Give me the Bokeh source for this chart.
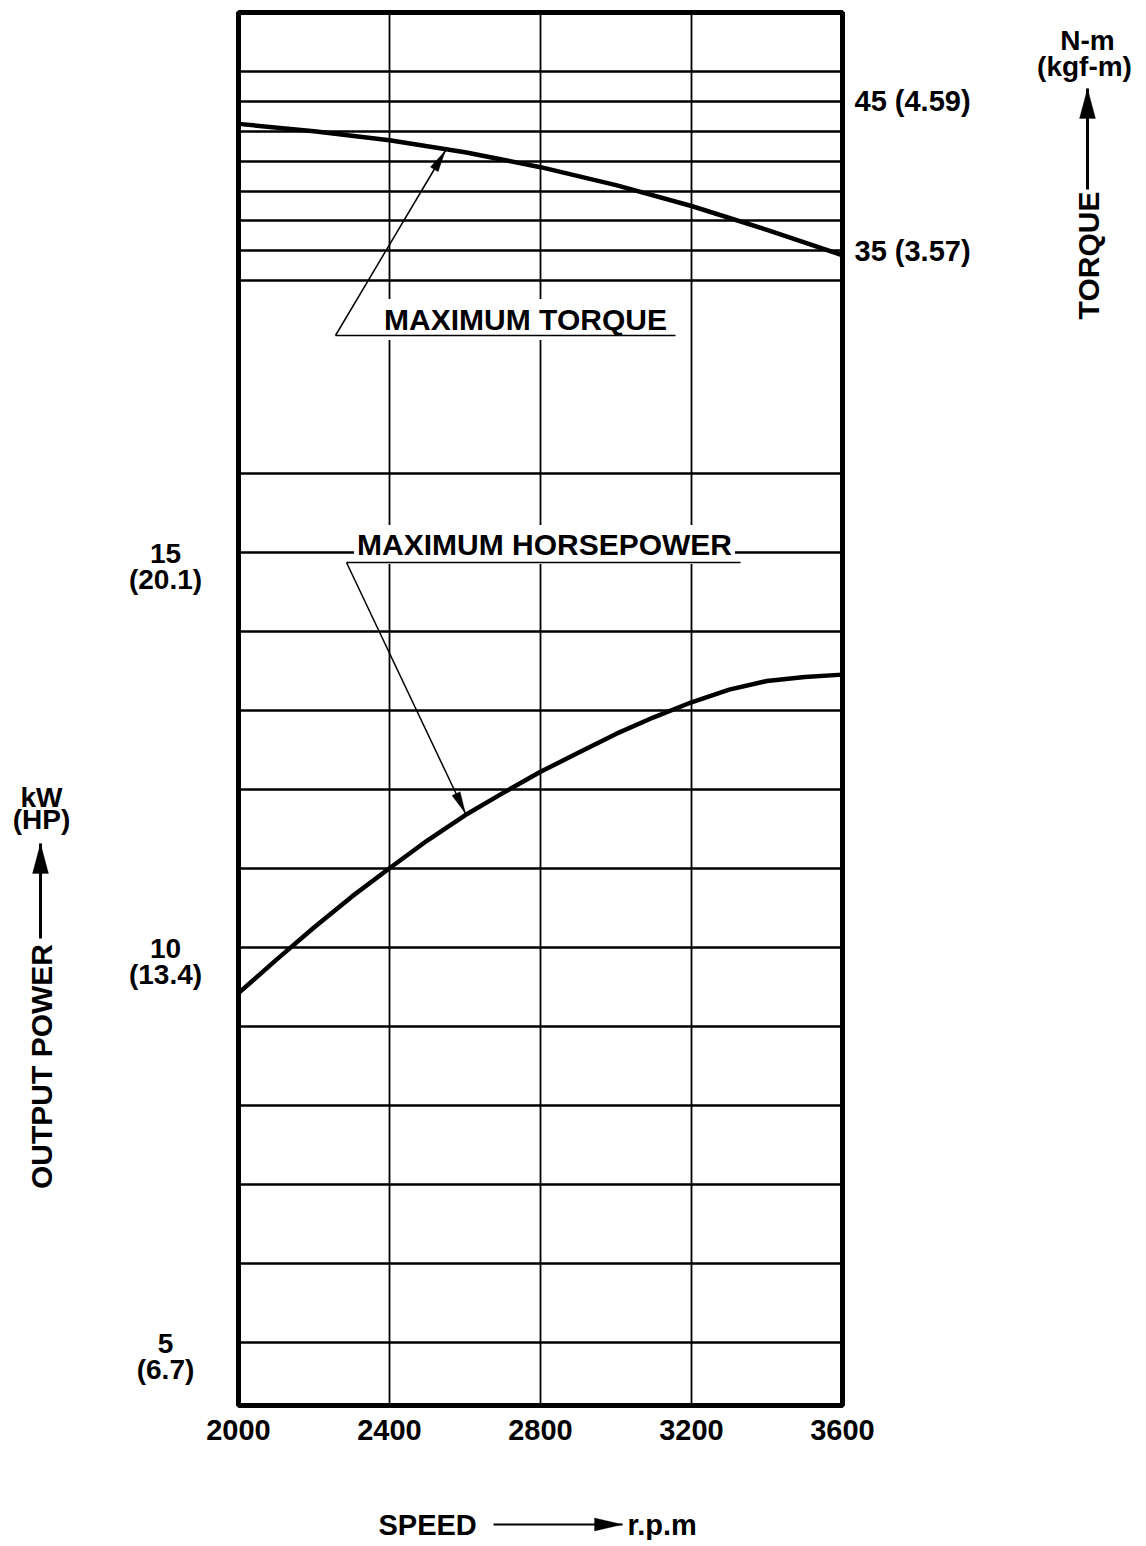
import math
from bokeh.plotting import figure
from bokeh.layouts import row, column
from bokeh.models import (Range1d, LinearAxis, FixedTicker, Grid, Label, Arrow,
                          PolyAnnotation)
from bokeh.core.properties import value
from bokeh.embed import file_html
from bokeh.resources import INLINE

# ---------------- data ----------------
torque_speed_rpm = [2000, 2200, 2400, 2600, 2800, 3000, 3200, 3400, 3600]
torque_nm = [43.5, 43.0, 42.4, 41.6, 40.6, 39.4, 38.0, 36.4, 34.7]

power_speed_rpm = [2000, 2100, 2200, 2300, 2400, 2500, 2600, 2700, 2800,
                   2900, 3000, 3100, 3200, 3300, 3400, 3500, 3600]
power_kw = [9.42, 9.84, 10.25, 10.64, 11.0, 11.35, 11.67, 11.95, 12.22,
            12.46, 12.70, 12.91, 13.10, 13.26, 13.37, 13.42, 13.45]

speed_ticks = [2000, 2400, 2800, 3200, 3600]
speed_grid = [2400, 2800, 3200]
power_ticks = [5, 10, 15]
power_kw_labels = ["5", "10", "15"]
power_hp_labels = ["(6.7)", "(13.4)", "(20.1)"]
power_grid = [5, 6, 7, 8, 9, 10, 11, 12, 13, 14, 15, 16]
torque_ticks = [35, 45]
torque_tick_labels = ["35 (3.57)", "45 (4.59)"]
torque_grid = [33, 35, 37, 39, 41, 43, 45, 47]

# ---------------- layout constants ----------------
X0, X1 = 2000, 3600
KW_LO, KW_HI = 4.2, 21.83
TQ_LO, TQ_HI = -42.34, 50.96
FONT = "Liberation Sans"
BLACK = "black"

# page-pixel geometry of the chart frame
FL, FR, FT, FB = 238, 842, 12, 1405
MAIN_H = 1470
LEFT_W, RIGHT_W = 202, 120
MAIN_W = 1140 - LEFT_W - RIGHT_W
PPU = (FB - FT) / (KW_HI - KW_LO)   # pixels per kW


def X(px):
    return X0 + (px - FL) * (X1 - X0) / (FR - FL)


def Y(py):
    return KW_HI - (py - FT) / PPU


def ident(v):
    return v


# ---------------- main chart ----------------
pm = figure(width=MAIN_W, height=MAIN_H,
            x_range=Range1d(X0, X1), y_range=Range1d(KW_LO, KW_HI),
            output_backend="svg", toolbar_location=None,
            min_border_left=FL - LEFT_W, min_border_right=LEFT_W + MAIN_W - FR,
            min_border_top=FT, min_border_bottom=MAIN_H - FB)
pm.extra_y_ranges = {"torque": Range1d(TQ_LO, TQ_HI)}
pm.outline_line_color = BLACK
pm.outline_line_width = 5
pm.background_fill_color = "white"
pm.border_fill_color = "white"
pm.yaxis.visible = False

xa = pm.xaxis[0]
xa.ticker = FixedTicker(ticks=speed_ticks)
xa.axis_line_color = None
xa.major_tick_line_color = None
xa.minor_tick_line_color = None
xa.major_tick_out = 0
xa.major_tick_in = 0
xa.major_label_standoff = 14
xa.major_label_text_font = FONT
xa.major_label_text_font_style = "bold"
xa.major_label_text_font_size = "29px"
xa.major_label_text_color = BLACK

tax = LinearAxis(y_range_name="torque", ticker=FixedTicker(ticks=torque_ticks),
                 major_label_overrides=dict(zip(torque_ticks, torque_tick_labels)),
                 axis_line_color=None, major_tick_line_color=None,
                 minor_tick_line_color=None, major_tick_out=0, major_tick_in=0,
                 major_label_text_font=FONT, major_label_text_font_style="bold",
                 major_label_text_font_size="29px", major_label_text_color=BLACK,
                 major_label_standoff=12)
pm.add_layout(tax, "right")

pm.xgrid.ticker = FixedTicker(ticks=speed_grid)
pm.xgrid.grid_line_color = BLACK
pm.xgrid.grid_line_width = 1.8
pm.ygrid.ticker = FixedTicker(ticks=power_grid)
pm.ygrid.grid_line_color = BLACK
pm.ygrid.grid_line_width = 2.4
pm.add_layout(Grid(dimension=1, ticker=FixedTicker(ticks=torque_grid),
                   y_range_name="torque", grid_line_color=BLACK, grid_line_width=2.4))

pm.line(power_speed_rpm, power_kw, line_color=BLACK, line_width=4.5)
pm.line(torque_speed_rpm, torque_nm, y_range_name="torque", line_color=BLACK,
        line_width=4.5)


# ---------------- helpers ----------------
def label(fig, fx, fy, px, py, s, size=30, align="center", bg=None, pad=3):
    lab = Label(x=fx(px), y=fy(py), text=s, text_font=FONT, text_font_style="bold",
                text_font_size=f"{size}px", text_align=align, text_baseline="middle",
                text_color=BLACK)
    if bg:
        lab.background_fill_color = bg
        lab.padding = pad
    fig.add_layout(lab)


def gtext(fig, xs, ys, texts, size=30, angle=0.0, align="center"):
    fig.text(x=xs, y=ys, text=texts, text_font=value(FONT), text_font_style="bold",
             text_font_size=value(f"{size}px"), text_align=align,
             text_baseline="middle", angle=angle, text_color=BLACK)


def arrow(fig, fx, fy, px0, py0, px1, py1, L=None, W=None, w=1.5):
    fig.add_layout(Arrow(x_start=fx(px0), y_start=fy(py0), x_end=fx(px1), y_end=fy(py1),
                         end=None, line_color=BLACK, line_width=w))
    if L:
        dx, dy = px1 - px0, py1 - py0
        n = math.hypot(dx, dy)
        ux, uy = dx / n, dy / n
        bx, by = px1 - ux * L, py1 - uy * L
        xs = [px1, bx - uy * W / 2, bx + uy * W / 2]
        ys = [py1, by + ux * W / 2, by - ux * W / 2]
        fig.add_layout(PolyAnnotation(xs=[fx(v) for v in xs], ys=[fy(v) for v in ys],
                                      fill_color=BLACK, fill_alpha=1,
                                      line_color=BLACK, line_width=1))


# annotations inside the chart
label(pm, X, Y, 525, 319, "MAXIMUM TORQUE", bg="white", pad=4)
arrow(pm, X, Y, 335, 335, 675, 335)
arrow(pm, X, Y, 335, 335, 445, 150, 22, 9)

label(pm, X, Y, 544, 544, "MAXIMUM HORSEPOWER", bg="white")
arrow(pm, X, Y, 346, 562, 740, 562)
arrow(pm, X, Y, 346, 562, 465, 813, 22, 9)


# ---------------- side panels ----------------
def side(width, x_start, height, y_range):
    f = figure(width=width, height=height, x_range=Range1d(x_start, x_start + width),
               y_range=y_range, x_axis_type=None, y_axis_type=None,
               output_backend="svg", toolbar_location=None,
               min_border_left=0, min_border_right=0,
               min_border_top=FT, min_border_bottom=MAIN_H - FB)
    f.outline_line_color = None
    f.background_fill_color = "white"
    f.border_fill_color = "white"
    return f


pl = side(LEFT_W, 0, MAIN_H, pm.y_range)
# power tick labels: kW value on the tick, HP value one line below
gtext(pl, [165] * len(power_ticks), [v - 1 / PPU for v in power_ticks],
      power_kw_labels, size=28)
gtext(pl, [165] * len(power_ticks), [v - 27 / PPU for v in power_ticks],
      power_hp_labels, size=28)
gtext(pl, [41], [Y(1066)], ["OUTPUT POWER"], size=30, angle=math.pi / 2)
arrow(pl, ident, Y, 40, 938, 40, 843, 30, 16, w=3)
gtext(pl, [41], [Y(797)], ["kW"], size=28)
gtext(pl, [41], [Y(819)], ["(HP)"], size=28)

pr = side(RIGHT_W, LEFT_W + MAIN_W, MAIN_H, pm.y_range)
gtext(pr, [1088], [Y(255)], ["TORQUE"], size=30, angle=math.pi / 2)
arrow(pr, ident, Y, 1087, 189, 1087, 88, 30, 16, w=3)
gtext(pr, [1087], [Y(40)], ["N-m"], size=28)
gtext(pr, [1084], [Y(66)], ["(kgf-m)"], size=28)

pb = figure(width=1140, height=70, x_range=Range1d(0, 1140),
            y_range=Range1d(1540, MAIN_H), x_axis_type=None, y_axis_type=None,
            output_backend="svg", toolbar_location=None,
            min_border_left=0, min_border_right=0, min_border_top=0, min_border_bottom=0)
pb.outline_line_color = None
pb.background_fill_color = "white"
pb.border_fill_color = "white"
gtext(pb, [378], [1524], ["SPEED"], size=29, align="left")
arrow(pb, ident, ident, 493, 1524, 622, 1524, 28, 13, w=2.2)
gtext(pb, [627], [1524], ["r.p.m"], size=29, align="left")

layout = column(row(pl, pm, pr), pb)
open("out.html", "w").write(file_html(layout, INLINE))
